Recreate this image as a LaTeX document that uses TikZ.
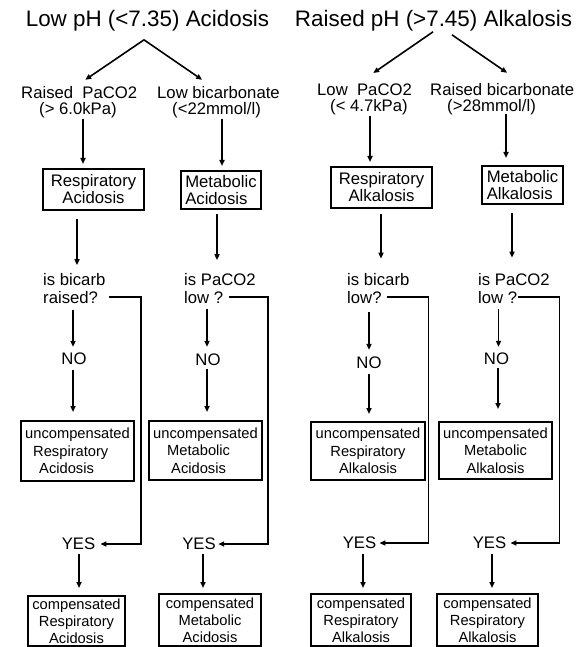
\documentclass[tikz,border=0pt]{standalone}
\usepackage{fontspec}
\setmainfont{Liberation Sans}
\usetikzlibrary{arrows.meta}
\newcommand\downarr[5]{\draw[arr,shorten <=#4pt,shorten >=#5pt] (#1.south -| #3,0) -- (#2.north -| #3,0);}
\begin{document}
\begin{tikzpicture}[x=1pt,y=-1pt,
  txt/.style={inner sep=0pt, font=\fontsize{16.7pt}{18pt}\selectfont, align=left},
  stxt/.style={inner sep=0pt, font=\fontsize{16.7pt}{16pt}\selectfont, align=left},
  ttl/.style={inner sep=0pt, font=\fontsize{22.4pt}{26pt}\selectfont, anchor=base},
  lbl/.style={inner sep=0pt, font=\fontsize{16.7pt}{18pt}\selectfont},
  bx/.style={draw, line width=2pt, inner sep=0pt, font=\fontsize{16.7pt}{17pt}\selectfont},
  sbx/.style={draw, line width=2pt, inner sep=0pt, font=\fontsize{14.7pt}{17.5pt}\selectfont},
  cbx/.style={draw, line width=2pt, inner sep=0pt, anchor=north, align=center, font=\fontsize{14.7pt}{17pt}\selectfont},
  arr/.style={line width=1.6pt, -{Triangle[length=6pt,width=5pt]}},
]
\useasboundingbox (0,0) rectangle (584,647);
\clip (0,0) rectangle (584,647);
\fill[white] (0,0) rectangle (584,647);

% titles
\node[ttl] (T1) at (147.5,27) {Low pH (<7.35) Acidosis};
\node[ttl] (T2) at (433.5,27) {Raised pH (>7.45) Alkalosis};

% second level
\node[stxt,anchor=west] (S1) at (21,102.6) {Raised~~PaCO2\\\hspace*{18pt}(> 6.0kPa)};
\node[stxt,anchor=west] (S2) at (157,102.6) {Low bicarbonate\\\hspace*{15pt}(<22mmol/l)};
\node[stxt,anchor=west] (S3) at (317,99.6) {Low~~PaCO2\\\hspace*{13pt}(< 4.7kPa)};
\node[stxt,anchor=west] (S4) at (430,99.6) {Raised bicarbonate\\\hspace*{17pt}(>28mmol/l)};

% diagnosis boxes
\node[bx,minimum width=101pt,minimum height=41pt,align=center] (B1) at (93.5,189.5) {Respiratory\\Acidosis};
\node[bx,minimum width=80pt,minimum height=38pt,align=left] (B2) at (221,190) {Metabolic\\Acidosis};
\node[bx,minimum width=101pt,minimum height=41pt,align=center] (B3) at (381.5,187.5) {Respiratory\\Alkalosis};
\node[bx,minimum width=81pt,minimum height=38pt,align=left] (B4) at (522.5,185) {Metabolic\\Alkalosis};

% questions
\node[txt,anchor=west] (Q1) at (43,288.5) {is bicarb\\raised?};
\node[txt,anchor=west] (Q2) at (184,288.5) {is PaCO2\\low ?};
\node[txt,anchor=west] (Q3) at (347,289) {is bicarb\\low?};
\node[txt,anchor=west] (Q4) at (478,289) {is PaCO2\\low ?};

% NO
\node[lbl] (N1) at (74,359) {NO};
\node[lbl] (N2) at (208,360) {NO};
\node[lbl] (N3) at (369,363) {NO};
\node[lbl] (N4) at (496.5,359) {NO};

% uncompensated
\node[sbx,minimum width=113pt,minimum height=60pt,align=left] (U1) at (77.5,451) {uncompensated\\\hspace*{8pt}Respiratory\\\hspace*{14pt}Acidosis};
\node[sbx,minimum width=113pt,minimum height=59pt,align=left] (U2) at (205.5,450.5) {uncompensated\\\hspace*{14pt}Metabolic\\\hspace*{18pt}Acidosis};
\node[sbx,minimum width=114pt,minimum height=58pt,align=center] (U3) at (368,451) {uncompensated\\Respiratory\\Alkalosis};
\node[sbx,minimum width=113pt,minimum height=57pt,align=center] (U4) at (495.5,450.5) {uncompensated\\Metabolic\\Alkalosis};

% YES
\node[lbl] (Y1) at (78.5,544) {YES};
\node[lbl] (Y2) at (199,544) {YES};
\node[lbl] (Y3) at (359.5,543) {YES};
\node[lbl] (Y4) at (489.5,543) {YES};

% compensated
\node[cbx,minimum width=97pt,minimum height=50pt] (C1) at (76.5,595) {compensated\\Respiratory\\Acidosis};
\node[cbx,minimum width=102pt,minimum height=52pt] (C2) at (210,593) {compensated\\Metabolic\\Acidosis};
\node[cbx,minimum width=100pt,minimum height=52pt] (C3) at (361,593) {compensated\\Respiratory\\Alkalosis};
\node[cbx,minimum width=101pt,minimum height=52pt] (C4) at (487.5,593) {compensated\\Respiratory\\Alkalosis};

% title arrows
\draw[arr] ([xshift=-3.5pt,yshift=-8pt]T1.south) -- ([xshift=6pt,yshift=6.8pt]S1.north);
\draw[arr] ([xshift=-3.5pt,yshift=-8pt]T1.south) -- ([xshift=-16.3pt,yshift=6.8pt]S2.north);
\draw[arr] ([xshift=-0.5pt]T2.south) -- ([xshift=8.7pt,yshift=10.8pt]S3.north);
\draw[arr] ([xshift=18.5pt,yshift=-3pt]T2.south) -- ([xshift=5pt,yshift=10.8pt]S4.north);

% vertical arrows
\downarr{S1}{B1}{83}{0}{4}
\downarr{S2}{B2}{222}{0}{4}
\downarr{S3}{B3}{370}{1}{4}
\downarr{S4}{B4}{506}{-2}{7}

\downarr{B1}{Q1}{77}{8}{8}
\downarr{B2}{Q2}{217}{4}{13}
\downarr{B3}{Q3}{381}{5}{15}
\downarr{B4}{Q4}{512}{8}{16}

\downarr{Q1}{N1}{73}{6}{6}
\downarr{Q2}{N2}{207}{5}{7}
\downarr{Q3}{N3}{369}{8}{7}
\downarr{Q4}{N4}{498.5}{5}{6}

\downarr{N1}{U1}{73}{5}{8}
\downarr{N2}{U2}{207}{3}{8}
\downarr{N3}{U3}{369}{5}{7}
\downarr{N4}{U4}{498}{3}{12}

\downarr{Y1}{C1}{79}{4}{7}
\downarr{Y2}{C2}{203}{4}{5}
\downarr{Y3}{C3}{363}{5}{5}
\downarr{Y4}{C4}{492}{5}{5}

% YES routes
\draw[arr,shorten >=5pt] ([xshift=66pt,yshift=-8.5pt]Q1.west) -- ++(32,0) |- (Y1.east);
\draw[arr,shorten >=2.3pt] ([xshift=45pt,yshift=-8.5pt]Q2.west) -- ++(39,0) |- (Y2.east);
\draw[arr,shorten >=3pt] ([xshift=40pt,yshift=-8pt]Q3.west) -- ++(41.5,0) |- (Y3.east);
\draw[arr,shorten >=4pt] ([xshift=40pt,yshift=-8pt]Q4.west) -- ++(41.5,0) |- (Y4.east);
\end{tikzpicture}
\end{document}
